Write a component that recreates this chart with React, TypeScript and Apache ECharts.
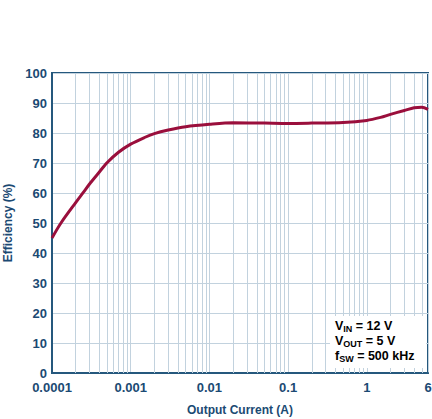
import { useEffect, useRef } from "react";
import * as echarts from "echarts";

// output current (A) vs efficiency (%)
const current = [
  0.0001, 0.00013, 0.0002, 0.00025, 0.0003, 0.0004, 0.0005, 0.0007, 0.001, 0.0015, 0.002, 0.003, 0.005,
  0.01, 0.02, 0.05, 0.1, 0.2, 0.5, 1, 1.5, 2, 3, 4, 5, 6,
];
const efficiency = [
  45, 50, 56.8, 60.2, 63, 67, 70.1, 73.6, 76.3, 78.5, 79.8, 81, 82.1,
  82.9, 83.4, 83.3, 83.2, 83.3, 83.5, 84.2, 85.2, 86.2, 87.5, 88.4, 88.6, 87.9,
];

const xTickLabels = ["0.0001", "0.001", "0.01", "0.1", "1", "6"];
const minorGrid = [
  0.0002, 0.0003, 0.0004, 0.0005, 0.0006, 0.0007, 0.0008, 0.0009,
  0.002, 0.003, 0.004, 0.005, 0.006, 0.007, 0.008, 0.009,
  0.02, 0.03, 0.04, 0.05, 0.06, 0.07, 0.08, 0.09,
  0.2, 0.3, 0.4, 0.5, 0.6, 0.7, 0.8, 0.9,
  2, 3, 4, 5,
];

const TEXT = "#1b4a73";
const AXIS = "#25587d";
const GRID = "#c2d2de";
const FONT = "Liberation Sans, Arial, sans-serif";

export default function App() {
  const ref = useRef<HTMLDivElement>(null);
  useEffect(() => {
    if (!ref.current) return;
    const chart = echarts.init(ref.current, undefined, { renderer: "svg" });
    const main = { fontSize: 12.5, fontWeight: "bold", color: TEXT, fontFamily: FONT, lineHeight: 15 };
    const sub = { fontSize: 9, fontWeight: "bold", color: TEXT, fontFamily: FONT, lineHeight: 8, verticalAlign: "bottom" };
    const option = {
      animation: false,
      backgroundColor: "#fff",
      grid: {
        left: 52, right: 4, top: 73, bottom: 46,
        outerBoundsMode: "none",
        show: true, borderColor: AXIS, borderWidth: 2, backgroundColor: "transparent",
      },
      xAxis: {
        type: "log",
        logBase: 10,
        min: 0.0001,
        max: 6,
        name: "Output Current (A)",
        nameLocation: "middle",
        nameGap: 31,
        nameTextStyle: { fontSize: 12, fontWeight: "bold", color: TEXT, fontFamily: FONT },
        axisLine: { lineStyle: { color: AXIS, width: 2 } },
        axisTick: { show: false },
        axisLabel: {
          margin: 8,
          fontSize: 13,
          fontWeight: "bold",
          color: TEXT,
          fontFamily: FONT,
          showMaxLabel: true,
          formatter: (v: number) => xTickLabels.find((t) => Math.abs(Math.log10(Number(t)) - Math.log10(v)) < 0.01) ?? "",
        },
        splitLine: { show: true, lineStyle: { color: GRID, width: 1 } },
      },
      yAxis: {
        type: "value",
        min: 0,
        max: 100,
        interval: 10,
        name: "Efficiency (%)",
        nameLocation: "middle",
        nameGap: 30,
        nameTextStyle: { fontSize: 12, fontWeight: "bold", color: TEXT, fontFamily: FONT },
        axisLine: { show: true, lineStyle: { color: AXIS, width: 2 } },
        axisTick: { show: false },
        axisLabel: { margin: 5, fontSize: 13, fontWeight: "bold", color: TEXT, fontFamily: FONT },
        splitLine: { show: true, lineStyle: { color: GRID, width: 1 } },
      },
      series: [
        {
          type: "line",
          data: [],
          silent: true,
          z: 1,
          markLine: {
            silent: true,
            precision: 8,
            symbol: "none",
            label: { show: false },
            lineStyle: { color: GRID, width: 1, type: "solid" },
            data: minorGrid.map((v) => ({ xAxis: v })),
          },
        },
        {
          type: "line",
          z: 5,
          data: current.map((c, i) => [c, efficiency[i]]),
          smooth: 0.3,
          symbol: "none",
          lineStyle: { color: "#9a0f3c", width: 3 },
        },
      ],
      graphic: [
        { type: "rect", z: 10, shape: { x: 330, y: 316, width: 96, height: 52 }, style: { fill: "#fff" } },
        {
          type: "text",
          z: 11,
          x: 335,
          y: 318,
          style: {
            text: "{m|V}{s|IN}{m| = 12 V}\n{m|V}{s|OUT}{m| = 5 V}\n{m|f}{s|SW}{m| = 500 kHz}",
            rich: { m: main, s: sub },
          },
        },
      ],
    } as echarts.EChartsOption;
    chart.setOption(option);
    return () => chart.dispose();
  }, []);
  return <div ref={ref} style={{ position: "fixed", left: 0, top: 0, width: 432, height: 419 }} />;
}
